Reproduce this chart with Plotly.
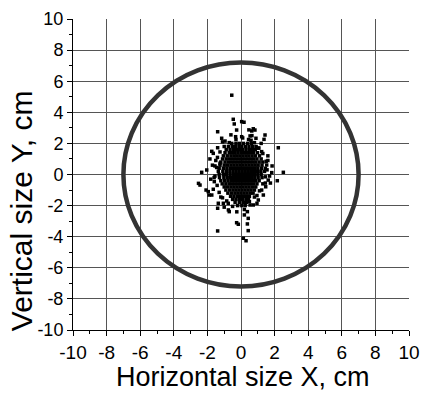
import plotly.graph_objects as go

# ---- data ----
tick_vals = [-10, -8, -6, -4, -2, 0, 2, 4, 6, 8, 10]
tick_text = ["-10", "-8", "-6", "-4", "-2", "0", "2", "4", "6", "8", "10"]

circle_rx = 7.0
circle_ry = 7.2

# dense core of the scatter, row by row (y level -> x positions)
core_y = [2.0, 1.8, 1.6, 1.4, 1.2, 1.0, 0.8, 0.6, 0.4, 0.2, 0.0,
          -0.2, -0.4, -0.6, -0.8, -1.0, -1.2, -1.4, -1.6, -1.8, -2.0]
core_x = [
    [-0.55, -0.3, -0.1, 0.15, 0.4, 0.62],
    [-0.75, -0.52, -0.33, -0.12, 0.05, 0.27, 0.48, 0.7, 0.9],
    [-0.88, -0.65, -0.45, -0.27, -0.08, 0.1, 0.3, 0.5, 0.68, 0.85],
    [-0.95, -0.7, -0.52, -0.35, -0.17, 0.02, 0.2, 0.38, 0.56, 0.75, 0.98],
    [-1.05, -0.82, -0.6, -0.42, -0.25, -0.07, 0.12, 0.3, 0.47, 0.66, 0.85, 1.1],
    [-1.1, -0.88, -0.68, -0.5, -0.32, -0.14, 0.04, 0.22, 0.4, 0.58, 0.76, 0.95, 1.2],
    [-1.2, -0.95, -0.75, -0.56, -0.38, -0.2, -0.02, 0.16, 0.34, 0.52, 0.7, 0.88, 1.08, 1.3],
    [-1.25, -1.0, -0.8, -0.6, -0.42, -0.24, -0.06, 0.12, 0.3, 0.48, 0.66, 0.84, 1.02, 1.25],
    [-1.3, -1.05, -0.84, -0.64, -0.45, -0.27, -0.09, 0.09, 0.27, 0.45, 0.63, 0.81, 1.0, 1.22, 1.45],
    [-1.35, -1.08, -0.86, -0.66, -0.47, -0.29, -0.11, 0.07, 0.25, 0.43, 0.61, 0.79, 0.98, 1.18, 1.4],
    [-1.3, -1.05, -0.85, -0.65, -0.46, -0.28, -0.1, 0.08, 0.26, 0.44, 0.62, 0.8, 1.0, 1.2],
    [-1.28, -1.02, -0.82, -0.62, -0.44, -0.26, -0.08, 0.1, 0.28, 0.46, 0.64, 0.82, 1.02, 1.25],
    [-1.2, -0.97, -0.77, -0.58, -0.4, -0.22, -0.04, 0.14, 0.32, 0.5, 0.68, 0.87, 1.08],
    [-1.12, -0.9, -0.7, -0.52, -0.34, -0.16, 0.02, 0.2, 0.38, 0.56, 0.75, 0.95],
    [-1.0, -0.8, -0.6, -0.42, -0.24, -0.06, 0.12, 0.3, 0.48, 0.67, 0.88],
    [-0.9, -0.68, -0.48, -0.3, -0.12, 0.06, 0.24, 0.42, 0.6, 0.8],
    [-0.78, -0.56, -0.36, -0.18, 0.0, 0.18, 0.36, 0.55, 0.72],
    [-0.62, -0.42, -0.22, -0.04, 0.14, 0.32, 0.5],
    [-0.5, -0.3, -0.1, 0.1, 0.3, 0.45],
    [-0.35, -0.1, 0.15, 0.32],
    [-0.2, 0.05, 0.25],
]

# ragged edge of the core
edge_x = [-1.5, -1.45, -1.55, -1.42, -1.3, -1.1, -0.85, -0.5, 0.5, 0.8,
          1.1, 1.3, 1.45, 1.55, 1.5, 1.3, 1.05, 0.8, 0.45, 0.1,
          -0.3, -0.7, -1.0, -1.25, -1.4, -1.7, -1.8, -1.65, 1.75, 1.85,
          1.2, -1.1, 0.95, -1.0, 0.2, -0.25, 0.65, -0.6, 1.6, -1.85]
edge_y = [0.9, 0.45, -0.1, -0.7, -1.15, -1.5, -1.7, -2.05, -1.75, -1.45,
          -1.05, -0.6, -0.15, 0.3, 0.85, 1.35, 1.7, 2.05, 2.25, 2.35,
          2.25, 2.05, 1.8, 1.45, 1.1, 0.6, -0.3, -0.95, -0.55, 0.55,
          2.0, 2.1, -1.85, -2.1, -2.25, -2.4, 2.5, 2.55, 1.2, 1.0]

# scattered outlying points
outer_x = [-0.55, -0.46, -0.4, 0.04, 0.18, -1.39, -1.15, -0.26, -0.32, 0.04,
           0.64, 0.83, 0.54, 0.89, 1.43, 1.37, 2.22, 1.23, 1.53, 2.52,
           -1.39, -1.65, -1.25, -2.04, -2.34, -1.74, -2.53, -2.44, -1.95, -1.74,
           -1.59, -1.35, -1.05, -0.76, -1.39, -0.7, -0.26, -0.16, -1.39, 0.14,
           0.3, 1.83, 2.16, 1.23, 1.33, 1.03, 0.54, 0.38, 0.43, 0.38,
           0.43, 1.62, 1.47, 0.73, -2.08, -1.9, 0.47, 0.73, -0.75, 0.2,
           1.6, 1.7, -1.55, -1.6, 1.05, -0.95, 0.95, -1.2, 1.45, 0.6]
outer_y = [5.1, 3.55, 3.25, 3.4, 3.36, 2.75, 2.33, 2.86, 2.43, 2.43,
           2.8, 2.86, 2.48, 2.33, 2.54, 2.26, 1.72, 1.47, 0.61, 0.14,
           1.72, 1.36, 0.72, 0.29, 0.14, 1.49, -0.57, -0.68, -1.1, -1.32,
           -0.46, -1.85, -1.85, -1.85, -2.17, -2.39, -3.1, -3.2, -3.63, -4.1,
           -4.26, 0.12, -0.4, -1.0, -1.32, -1.64, -1.96, -2.39, -2.82, -3.18,
           -3.61, -0.36, -0.79, -1.96, -1.0, -1.32, 2.87, 2.94, -2.28, -2.6,
           0.9, -0.1, 0.55, -0.2, 1.7, 2.15, -1.35, -1.45, -0.55, 2.2]

# ---- build ----
pts_x = [x for row in core_x for x in row] + edge_x + outer_x
pts_y = [y for y, row in zip(core_y, core_x) for _ in row] + edge_y + outer_y

FONT = "Liberation Sans, Arial, sans-serif"

fig = go.Figure()
fig.add_trace(go.Scatter(
    x=pts_x, y=pts_y, mode="markers",
    marker=dict(symbol="square", size=3.5, color="black", line=dict(width=0)),
    showlegend=False, hoverinfo="skip",
))

fig.add_shape(type="circle", xref="x", yref="y",
              x0=-circle_rx, x1=circle_rx,
              y0=-circle_ry, y1=circle_ry,
              line=dict(color="#333333", width=4.5))

axis_common = dict(
    range=[-10, 10], tickmode="array", tickvals=tick_vals, ticktext=tick_text,
    ticks="outside", ticklen=5, tickwidth=1, tickcolor="black",
    showline=True, linecolor="black", linewidth=1,
    showgrid=True, gridcolor="#555555", gridwidth=1, zeroline=False,
    minor=dict(dtick=1, tick0=-10, ticks="outside", ticklen=3,
               tickcolor="black", showgrid=False),
    tickfont=dict(family=FONT, size=19, color="black"),
    fixedrange=True, automargin=False,
)

fig.update_layout(
    width=422, height=399,
    margin=dict(l=73, r=13, t=19, b=69),
    paper_bgcolor="white", plot_bgcolor="white",
    xaxis=axis_common, yaxis=dict(axis_common, tickfont=dict(family=FONT, size=18, color="black")),
    font=dict(family=FONT, color="black"),
    annotations=[
        dict(text="Horizontal size X, cm", xref="paper", yref="paper",
             x=0.505, y=-0.15, xanchor="center", yanchor="middle",
             showarrow=False, font=dict(family=FONT, size=27, color="black")),
        dict(text="Vertical size Y, cm", xref="paper", yref="paper",
             x=-0.155, y=0.385, xanchor="center", yanchor="middle",
             textangle=-90, showarrow=False,
             font=dict(family=FONT, size=30, color="black")),
    ],
)

fig.write_html("out.html")
